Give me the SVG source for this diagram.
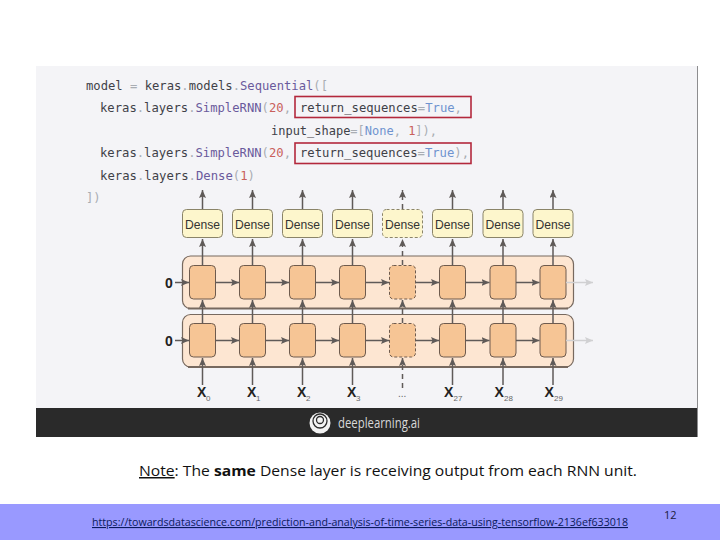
<svg xmlns="http://www.w3.org/2000/svg" width="720" height="540" viewBox="0 0 720 540">
<style>
.code{font-family:"DejaVu Sans Mono","Liberation Mono",monospace;font-size:12.2px;fill:#3f4148}
.g{fill:#a9adb3}.p{fill:#6a5a9c}.b{fill:#6f93cf}.r{fill:#c9605c}
.redbox{fill:none;stroke:#b3283c;stroke-width:1.6}
.dense{fill:#fdf6cc;stroke:#8a8468;stroke-width:1}
.dense.d{stroke-dasharray:3 2}
.dt{font-family:"Liberation Sans",sans-serif;font-size:13px;fill:#333;text-anchor:middle}
.outer{fill:#fde6d2;stroke:#77695f;stroke-width:1.2}
.cell{fill:#f6c595;stroke:#6e5b4e;stroke-width:1}
.cell.d{stroke-dasharray:3 2}
.c{fill:none;stroke:#5f5a58;stroke-width:1.5;marker-end:url(#a)}
.c.d{stroke-dasharray:5 4}
.c.l{stroke:#d0d0d2;marker-end:url(#al)}
.x{font-family:"Liberation Sans",sans-serif;font-weight:700;font-size:14px;fill:#222}
.s{font-family:"Liberation Sans",sans-serif;font-size:8px;fill:#666}
.z{font-family:"Liberation Sans",sans-serif;font-weight:700;font-size:14px;fill:#222}
</style>
<defs>
<marker id="a" markerUnits="userSpaceOnUse" markerWidth="9" markerHeight="8" refX="8" refY="3.5" orient="auto"><path d="M0,0L8,3.5L0,7L1.5,3.5z" fill="#5f5a58"/></marker>
<marker id="al" markerUnits="userSpaceOnUse" markerWidth="9" markerHeight="8" refX="8" refY="3.5" orient="auto"><path d="M0,0L8,3.5L0,7L1.5,3.5z" fill="#d0d0d2"/></marker>
</defs>
<rect width="720" height="540" fill="#fff"/>
<rect x="36" y="66" width="661" height="342" fill="#f4f4f7"/>
<path d="M697.500 66V437" stroke="#8d8d8f" stroke-width="1" fill="none"/>

<g id="code">
<text class="code" x="86" y="90" textLength="242" lengthAdjust="spacingAndGlyphs">model <tspan class="g">=</tspan> keras<tspan class="g">.</tspan>models<tspan class="g">.</tspan><tspan class="p">Sequential</tspan><tspan class="g">([</tspan></text>
<text class="code" x="100" y="112" textLength="191" lengthAdjust="spacingAndGlyphs">keras<tspan class="g">.</tspan>layers<tspan class="g">.</tspan><tspan class="p">SimpleRNN</tspan><tspan class="g">(</tspan><tspan class="r">20</tspan><tspan class="g">,</tspan></text>
<text class="code" x="300" y="112" textLength="162" lengthAdjust="spacingAndGlyphs">return_sequences<tspan class="g">=</tspan><tspan class="b">True</tspan><tspan class="g">,</tspan></text>
<text class="code" x="271" y="135" textLength="166" lengthAdjust="spacingAndGlyphs">input_shape<tspan class="g">=[</tspan><tspan class="b">None</tspan><tspan class="g">,</tspan> <tspan class="r">1</tspan><tspan class="g">]),</tspan></text>
<text class="code" x="100" y="157" textLength="191" lengthAdjust="spacingAndGlyphs">keras<tspan class="g">.</tspan>layers<tspan class="g">.</tspan><tspan class="p">SimpleRNN</tspan><tspan class="g">(</tspan><tspan class="r">20</tspan><tspan class="g">,</tspan></text>
<text class="code" x="300" y="157" textLength="169" lengthAdjust="spacingAndGlyphs">return_sequences<tspan class="g">=</tspan><tspan class="b">True</tspan><tspan class="g">),</tspan></text>
<text class="code" x="100" y="180" textLength="155" lengthAdjust="spacingAndGlyphs">keras<tspan class="g">.</tspan>layers<tspan class="g">.</tspan><tspan class="p">Dense</tspan><tspan class="g">(</tspan><tspan class="r">1</tspan><tspan class="g">)</tspan></text>
<text class="code g" x="86" y="202">])</text>
<rect class="redbox" x="295" y="96.500" width="176" height="21"/>
<rect class="redbox" x="295" y="143" width="176" height="20.500"/>
</g>

<g id="rnn-layer-1"><rect class="outer" x="182.500" y="256" width="391" height="52.500" rx="8"/><path d="M188 308.500H568" stroke="#77695f" stroke-width="2" fill="none"/></g>
<g id="rnn-layer-2"><rect class="outer" x="182.500" y="314.500" width="391" height="52.500" rx="8"/><path d="M188 367H568" stroke="#77695f" stroke-width="1.800" fill="none"/></g>

<g id="cells-1">
<rect class="cell" x="189.500" y="265.500" width="26" height="33.500" rx="4"/>
<rect class="cell" x="239.500" y="265.500" width="26" height="33.500" rx="4"/>
<rect class="cell" x="289.500" y="265.500" width="26" height="33.500" rx="4"/>
<rect class="cell" x="339.500" y="265.500" width="26" height="33.500" rx="4"/>
<rect class="cell d" x="389.500" y="265.500" width="26" height="33.500" rx="4"/>
<rect class="cell" x="439.500" y="265.500" width="26" height="33.500" rx="4"/>
<rect class="cell" x="490" y="265.500" width="26" height="33.500" rx="4"/>
<rect class="cell" x="540" y="265.500" width="26" height="33.500" rx="4"/>
</g>
<g id="cells-2">
<rect class="cell" x="189.500" y="323.500" width="26" height="33.500" rx="4"/>
<rect class="cell" x="239.500" y="323.500" width="26" height="33.500" rx="4"/>
<rect class="cell" x="289.500" y="323.500" width="26" height="33.500" rx="4"/>
<rect class="cell" x="339.500" y="323.500" width="26" height="33.500" rx="4"/>
<rect class="cell d" x="389.500" y="323.500" width="26" height="33.500" rx="4"/>
<rect class="cell" x="439.500" y="323.500" width="26" height="33.500" rx="4"/>
<rect class="cell" x="490" y="323.500" width="26" height="33.500" rx="4"/>
<rect class="cell" x="540" y="323.500" width="26" height="33.500" rx="4"/>
</g>

<g id="connectors">
<path class="c" d="M202.500 209V190"/><path class="c" d="M252.500 209V190"/><path class="c" d="M302.500 209V190"/><path class="c" d="M352.500 209V190"/><path class="c d" d="M402.500 209V190"/><path class="c" d="M452.500 209V190"/><path class="c" d="M503 209V190"/><path class="c" d="M553 209V190"/>
<path class="c" d="M202.500 265V239"/><path class="c" d="M252.500 265V239"/><path class="c" d="M302.500 265V239"/><path class="c" d="M352.500 265V239"/><path class="c d" d="M402.500 265V239"/><path class="c" d="M452.500 265V239"/><path class="c" d="M503 265V239"/><path class="c" d="M553 265V239"/>
<path class="c" d="M202.500 323V300"/><path class="c" d="M252.500 323V300"/><path class="c" d="M302.500 323V300"/><path class="c" d="M352.500 323V300"/><path class="c d" d="M402.500 323V300"/><path class="c" d="M452.500 323V300"/><path class="c" d="M503 323V300"/><path class="c" d="M553 323V300"/>
<path class="c" d="M202.500 385V358"/><path class="c" d="M252.500 385V358"/><path class="c" d="M302.500 385V358"/><path class="c" d="M352.500 385V358"/><path class="c d" d="M402.500 388V358"/><path class="c" d="M452.500 385V358"/><path class="c" d="M503 385V358"/><path class="c" d="M553 385V358"/>
<path class="c" d="M175 282.500H189"/><path class="c" d="M215.500 282.500H239"/><path class="c" d="M265.500 282.500H289"/><path class="c" d="M315.500 282.500H339"/><path class="c" d="M365.500 282.500H389"/><path class="c" d="M415.500 282.500H439"/><path class="c" d="M465.500 282.500H489.500"/><path class="c" d="M516 282.500H539.500"/><path class="c l" d="M566 282.500H593"/>
<path class="c" d="M175 340.500H189"/><path class="c" d="M215.500 340.500H239"/><path class="c" d="M265.500 340.500H289"/><path class="c" d="M315.500 340.500H339"/><path class="c" d="M365.500 340.500H389"/><path class="c" d="M415.500 340.500H439"/><path class="c" d="M465.500 340.500H489.500"/><path class="c" d="M516 340.500H539.500"/><path class="c l" d="M566 340.500H593"/>
</g>

<g id="dense-0"><rect class="dense" x="182.500" y="209.500" width="40" height="28" rx="4"/><text class="dt" x="202.500" y="228.500" textLength="35" lengthAdjust="spacingAndGlyphs">Dense</text></g>
<g id="dense-1"><rect class="dense" x="232.500" y="209.500" width="40" height="28" rx="4"/><text class="dt" x="252.500" y="228.500" textLength="35" lengthAdjust="spacingAndGlyphs">Dense</text></g>
<g id="dense-2"><rect class="dense" x="282.500" y="209.500" width="40" height="28" rx="4"/><text class="dt" x="302.500" y="228.500" textLength="35" lengthAdjust="spacingAndGlyphs">Dense</text></g>
<g id="dense-3"><rect class="dense" x="332.500" y="209.500" width="40" height="28" rx="4"/><text class="dt" x="352.500" y="228.500" textLength="35" lengthAdjust="spacingAndGlyphs">Dense</text></g>
<g id="dense-4"><rect class="dense d" x="382.500" y="209.500" width="40" height="28" rx="4"/><text class="dt" x="402.500" y="228.500" textLength="35" lengthAdjust="spacingAndGlyphs">Dense</text></g>
<g id="dense-5"><rect class="dense" x="432.500" y="209.500" width="40" height="28" rx="4"/><text class="dt" x="452.500" y="228.500" textLength="35" lengthAdjust="spacingAndGlyphs">Dense</text></g>
<g id="dense-6"><rect class="dense" x="483" y="209.500" width="40" height="28" rx="4"/><text class="dt" x="503" y="228.500" textLength="35" lengthAdjust="spacingAndGlyphs">Dense</text></g>
<g id="dense-7"><rect class="dense" x="533" y="209.500" width="40" height="28" rx="4"/><text class="dt" x="553" y="228.500" textLength="35" lengthAdjust="spacingAndGlyphs">Dense</text></g>

<g id="labels">
<text class="z" x="165" y="288">0</text>
<text class="z" x="165" y="346">0</text>
<text class="x" x="197" y="397">X</text><text class="s" x="206" y="401">0</text>
<text class="x" x="247" y="397">X</text><text class="s" x="256" y="401">1</text>
<text class="x" x="297" y="397">X</text><text class="s" x="306" y="401">2</text>
<text class="x" x="347" y="397">X</text><text class="s" x="356" y="401">3</text>
<text class="s" x="398" y="397" style="font-size:10px">...</text>
<text class="x" x="444" y="397">X</text><text class="s" x="453.500" y="401">27</text>
<text class="x" x="494.500" y="397">X</text><text class="s" x="504" y="401">28</text>
<text class="x" x="544.500" y="397">X</text><text class="s" x="554" y="401">29</text>
</g>

<g id="banner">
<rect x="36" y="408" width="661" height="29" fill="#2a2a2a"/>
<circle cx="320" cy="423" r="10.500" fill="#f2f2f2"/>
<circle cx="320" cy="421" r="7" fill="none" stroke="#2a2a2a" stroke-width="1.300"/>
<circle cx="320" cy="420" r="3.500" fill="none" stroke="#2a2a2a" stroke-width="1.300"/>
<text x="338" y="428" font-family="'Open Sans',sans-serif" font-size="14" fill="#d8d8d8" textLength="82" lengthAdjust="spacingAndGlyphs">deeplearning.ai</text>
</g>

<g id="note">
<text x="139" y="476" font-family="'Open Sans',sans-serif" font-size="15" fill="#111" textLength="498" lengthAdjust="spacingAndGlyphs"><tspan text-decoration="underline">Note</tspan>: The <tspan font-weight="700">same</tspan> Dense layer is receiving output from each RNN unit.</text>
</g>

<g id="footer">
<rect x="0" y="504" width="720" height="36" fill="#9999ff"/>
<text x="92" y="526" font-family="'Open Sans',sans-serif" font-size="11" fill="#0a1a5c" text-decoration="underline" textLength="536" lengthAdjust="spacingAndGlyphs">https://towardsdatascience.com/prediction-and-analysis-of-time-series-data-using-tensorflow-2136ef633018</text>
<text x="664" y="519" font-family="'Open Sans',sans-serif" font-size="11" fill="#1a1a3a">12</text>
</g>
</svg>
